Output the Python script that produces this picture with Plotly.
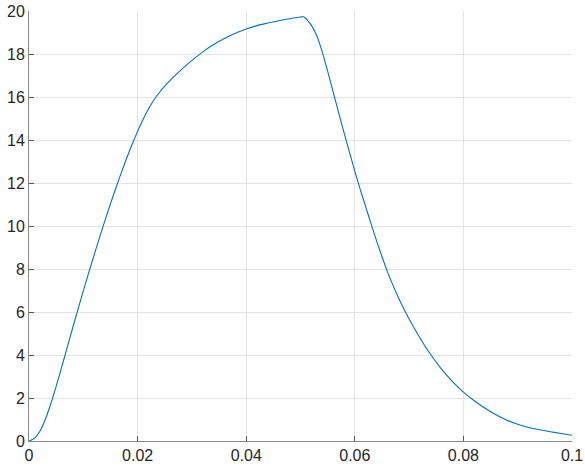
import plotly.graph_objects as go

# Data
x_vals = [0, 0.001, 0.002, 0.003, 0.004, 0.005, 0.006, 0.007, 0.008, 0.009,
          0.010, 0.011, 0.012, 0.013, 0.014, 0.015, 0.016, 0.017, 0.018, 0.019,
          0.020, 0.021, 0.022, 0.023, 0.024, 0.025, 0.026, 0.028, 0.030, 0.032,
          0.034, 0.036, 0.038, 0.040, 0.042, 0.044, 0.046, 0.048, 0.050, 0.0505,
          0.051, 0.0515, 0.052, 0.053, 0.054, 0.055, 0.056, 0.057, 0.058, 0.059,
          0.060, 0.061, 0.062, 0.063, 0.064, 0.065, 0.066, 0.067, 0.068, 0.069,
          0.070, 0.072, 0.074, 0.076, 0.078, 0.080, 0.082, 0.084, 0.086, 0.088,
          0.090, 0.092, 0.094, 0.096, 0.098, 0.100]
y_vals = [0, 0.12, 0.45, 1.0, 1.72, 2.54, 3.42, 4.32, 5.22, 6.11,
          6.98, 7.83, 8.66, 9.47, 10.26, 11.03, 11.77, 12.48, 13.16, 13.80,
          14.40, 14.95, 15.44, 15.86, 16.21, 16.51, 16.77, 17.26, 17.70, 18.10,
          18.44, 18.72, 18.96, 19.16, 19.32, 19.44, 19.55, 19.64, 19.72, 19.73,
          19.65, 19.5, 19.33, 18.85, 18.1, 17.2, 16.25, 15.3, 14.35, 13.45,
          12.55, 11.7, 10.9, 10.1, 9.32, 8.58, 7.88, 7.26, 6.69, 6.16,
          5.67, 4.79, 4.01, 3.33, 2.76, 2.27, 1.87, 1.52, 1.22, 0.97,
          0.78, 0.63, 0.52, 0.43, 0.35, 0.27]

x_ticks = [0, 0.02, 0.04, 0.06, 0.08, 0.1]
x_tick_text = ["0", "0.02", "0.04", "0.06", "0.08", "0.1"]
y_ticks = [0, 2, 4, 6, 8, 10, 12, 14, 16, 18, 20]

fig = go.Figure()
fig.add_trace(go.Scatter(
    x=x_vals, y=y_vals, mode="lines",
    line=dict(color="#0072BD", width=1.1, shape="spline", smoothing=0.8),
    showlegend=False, hoverinfo="skip",
))

axis_common = dict(
    showgrid=True, gridcolor="#e3e3e3", gridwidth=1,
    showline=True, linecolor="#888888", linewidth=1,
    ticks="inside", ticklen=5, tickcolor="#555555", tickwidth=1,
    zeroline=False, automargin=False,
    tickfont=dict(family="Liberation Sans, Arial, sans-serif", size=16, color="#262626"),
)

fig.update_layout(
    width=585, height=472,
    margin=dict(l=29, r=13, t=11, b=31),
    paper_bgcolor="white", plot_bgcolor="white",
    xaxis=dict(range=[0, 0.1], tickvals=x_ticks, ticktext=x_tick_text, **axis_common),
    yaxis=dict(range=[0, 20], tickvals=y_ticks, **axis_common),
)

fig.write_html("out.html", config={"displayModeBar": False},
               post_script="document.body.style.margin='0';document.body.style.overflow='hidden';")
